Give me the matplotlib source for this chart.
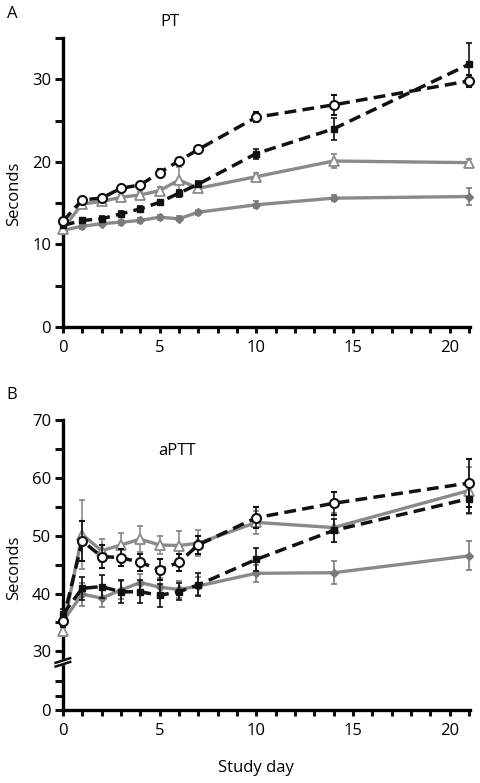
import numpy as np
import matplotlib
matplotlib.use('Agg')
import matplotlib.pyplot as plt

plt.rcParams['font.family'] = ['Open Sans', 'DejaVu Sans']

days = [0, 1, 2, 3, 4, 5, 6, 7, 10, 14, 21]

# PT (seconds)
pt_circle = [12.8, 15.4, 15.6, 16.8, 17.2, 18.7, 20.1, 21.5, 25.4, 26.9, 29.8]
pt_circle_err = [0.3, 0.3, 0.3, 0.3, 0.3, 0.4, 0.4, 0.4, 0.6, 1.2, 0.7]
pt_square = [12.3, 12.9, 13.1, 13.7, 14.3, 15.1, 16.2, 17.3, 21.0, 24.0, 31.8]
pt_square_err = [0.3, 0.3, 0.3, 0.3, 0.3, 0.3, 0.4, 0.4, 0.6, 1.3, 2.6]
pt_tri = [11.9, 14.9, 15.2, 15.7, 16.0, 16.5, 17.8, 16.8, 18.2, 20.1, 19.9]
pt_tri_err = [0.3, 0.3, 0.3, 0.3, 0.3, 0.4, 1.6, 0.4, 0.5, 0.9, 0.4]
pt_dia = [11.7, 12.2, 12.5, 12.7, 12.9, 13.3, 13.1, 13.9, 14.8, 15.6, 15.8]
pt_dia_err = [0.3, 0.3, 0.3, 0.3, 0.3, 0.3, 0.3, 0.3, 0.4, 0.4, 1.0]

# aPTT (seconds)
ap_circle = [35.2, 49.1, 46.4, 46.2, 45.4, 44.1, 45.4, 48.4, 53.1, 55.6, 59.1]
ap_circle_err = [1.0, 3.5, 2.0, 1.5, 1.5, 1.8, 1.5, 1.5, 1.8, 2.0, 4.2]
ap_square = [36.4, 40.9, 41.2, 40.3, 40.3, 39.7, 40.3, 41.5, 45.9, 50.9, 56.4]
ap_square_err = [1.0, 2.0, 2.0, 2.0, 2.0, 2.0, 1.5, 2.0, 2.0, 2.0, 2.5]
ap_tri = [33.6, 50.2, 47.4, 48.4, 49.4, 48.4, 48.3, 48.7, 52.3, 51.4, 57.8]
ap_tri_err = [1.0, 6.0, 2.0, 2.0, 2.2, 1.5, 2.5, 2.2, 2.0, 2.5, 4.0]
ap_dia = [35.2, 39.9, 39.2, 40.6, 41.9, 41.1, 40.7, 41.3, 43.5, 43.6, 46.5]
ap_dia_err = [1.0, 2.0, 1.5, 1.5, 1.5, 1.5, 1.5, 1.5, 1.5, 2.0, 2.5]

GRAY = '#8a8a8a'
DGRAY = '#7a7a7a'


def draw_series(ax, d):
    kw = dict(capsize=2.2, elinewidth=1.2, capthick=1.2, clip_on=False)
    ax.errorbar(days, d['dia'], yerr=d['dia_err'], color=GRAY, ecolor=DGRAY, lw=2.4,
                marker='D', ms=4.5, mfc=DGRAY, mec=DGRAY, zorder=3, **kw)
    ax.errorbar(days, d['tri'], yerr=d['tri_err'], color=GRAY, ecolor=GRAY, lw=2.4,
                marker='^', ms=6.5, mfc='white', mec=GRAY, mew=1.3, zorder=4, **kw)
    ax.errorbar(days, d['sq'], yerr=d['sq_err'], color='#111111', ecolor='#111111', lw=2.5,
                ls=(0, (3.4, 1.8)), marker='s', ms=5, mfc='#111111', mec='#111111',
                zorder=5, **kw)
    ax.errorbar(days, d['circ'], yerr=d['circ_err'], color='#111111', ecolor='#111111', lw=2.5,
                ls=(0, (3.4, 1.8)), marker='o', ms=6.5, mfc='white', mec='#111111', mew=1.5,
                zorder=6, **kw)


def style_axis(ax):
    for s in ['top', 'right']:
        ax.spines[s].set_visible(False)
    for s in ['left', 'bottom']:
        ax.spines[s].set_linewidth(2.4)
    ax.set_xlim(0, 21.05)
    ax.set_xticks(range(0, 22))
    ax.set_xticklabels([str(i) if i % 5 == 0 else '' for i in range(0, 22)])
    ax.tick_params(axis='both', direction='out', width=2.2, labelsize=12, color='#111111')
    ax.tick_params(axis='x', length=4.5, pad=5)
    ax.tick_params(axis='y', length=5.5, pad=3)


fig = plt.figure(figsize=(4.8, 7.83), dpi=100)

# Panel A
axA = fig.add_axes([0.131, 0.5824, 0.848, 0.3691])
draw_series(axA, dict(circ=pt_circle, circ_err=pt_circle_err, sq=pt_square, sq_err=pt_square_err,
                      tri=pt_tri, tri_err=pt_tri_err, dia=pt_dia, dia_err=pt_dia_err))
style_axis(axA)
axA.set_ylim(0, 35)
axA.set_yticks(range(0, 36, 5))
axA.set_yticklabels([str(v) if v % 10 == 0 else '' for v in range(0, 36, 5)])

# Panel B with broken y axis
brk_vals = [0, 15, 30, 70]
brk_pos = [0, 42.7, 58.3, 288.3]


def fwd(y):
    return np.interp(y, brk_vals, brk_pos)


def inv(p):
    return np.interp(p, brk_pos, brk_vals)


axB = fig.add_axes([0.131, 0.0932, 0.848, 0.3704])
axB.set_yscale('function', functions=(fwd, inv))
draw_series(axB, dict(circ=ap_circle, circ_err=ap_circle_err, sq=ap_square, sq_err=ap_square_err,
                      tri=ap_tri, tri_err=ap_tri_err, dia=ap_dia, dia_err=ap_dia_err))
style_axis(axB)
axB.set_ylim(0, 70)
yt = [0, 5, 10, 30, 35, 40, 45, 50, 55, 60, 65, 70]
axB.set_yticks(yt)
axB.set_yticklabels([str(v) if v in (0, 30, 40, 50, 60, 70) else '' for v in yt])

# break marks on the y axis
yb = 45.5 / 288.3
axB.add_patch(plt.Rectangle((-0.02, yb), 0.04, 0.013, transform=axB.transAxes,
                            color='white', clip_on=False, zorder=10))
for off in (0.0, 0.013):
    axB.plot([-0.018, 0.018], [yb - 0.008 + off, yb + 0.008 + off], transform=axB.transAxes,
             color='#111111', lw=1.8, clip_on=False, zorder=11)

fig.text(12 / 480, 1 - 14 / 783, 'A', fontsize=12, ha='center', va='center')
fig.text(170 / 480, 1 - 22 / 783, 'PT', fontsize=12, ha='center', va='center')
fig.text(12 / 480, 1 - 395 / 783, 'B', fontsize=12, ha='center', va='center')
fig.text(177 / 480, 1 - 451 / 783, 'aPTT', fontsize=12, ha='center', va='center')
fig.text(14 / 480, 1 - 194 / 783, 'Seconds', fontsize=12, rotation=90, ha='center', va='center')
fig.text(14 / 480, 1 - 568 / 783, 'Seconds', fontsize=12, rotation=90, ha='center', va='center')
fig.text(256 / 480, 1 - 768 / 783, 'Study day', fontsize=12, ha='center', va='center')

fig.savefig('out.png', dpi=100)
